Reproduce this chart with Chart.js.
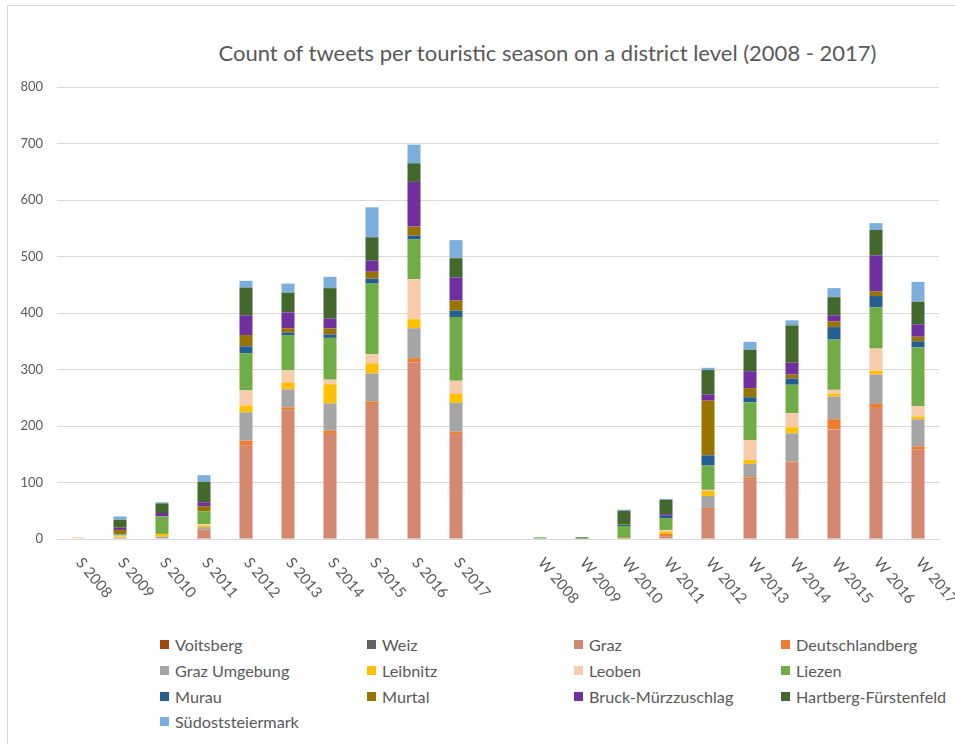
<!DOCTYPE html>
<html>
<head>
<meta charset="utf-8">
<title>Tweets per touristic season</title>
<script src="https://cdn.jsdelivr.net/npm/chart.js@4.4.0/dist/chart.umd.min.js"></script>
<style>
  html, body { margin: 0; padding: 0; width: 955px; height: 744px; overflow: hidden; background: #fff; font-family: Lato, "Noto Sans", sans-serif; }
  .frame { position: absolute; left: 7px; top: 5px; width: 1100px; height: 800px; border: 1px solid #d9d9d9; }
  .title { position: absolute; left: 0; width: 1095px; top: 39px; text-align: center; font-size: 22px; color: #595959; white-space: nowrap; }
  #wrap { position: absolute; left: 0; top: 0; width: 955px; height: 620px; }
  #legend { position: absolute; left: 160px; top: 632px; display: grid; grid-template-columns: repeat(4, 207px); grid-auto-rows: 25.7px; font-size: 16.2px; color: #595959; }
  .item { display: flex; align-items: center; white-space: nowrap; }
  .swatch { width: 9px; height: 9px; margin-right: 6px; flex: none; }
</style>
</head>
<body>
<div class="frame"></div>
<div class="title">Count of tweets per touristic season on a district level (2008 - 2017)</div>
<div id="wrap"><canvas id="chart"></canvas></div>
<div id="legend"></div>

<script>
// Seasons: summer S, empty slot, winter W
const categories = ['S 2008', 'S 2009', 'S 2010', 'S 2011', 'S 2012', 'S 2013', 'S 2014', 'S 2015', 'S 2016', 'S 2017', '',
                    'W 2008', 'W 2009', 'W 2010', 'W 2011', 'W 2012', 'W 2013', 'W 2014', 'W 2015', 'W 2016', 'W 2017'];

const yTicks = [0, 100, 200, 300, 400, 500, 600, 700, 800];

// tweet counts per district, stacked bottom to top
const voitsberg        = [0, 0, 0, 0, 0, 0, 0, 0, 0, 0, null, 0, 0, 0, 0, 0, 0, 0, 0, 0, 0];
const weiz             = [0, 0, 0, 0, 0, 0, 0, 0, 0, 0, null, 0, 0, 0, 0, 0, 0, 0, 0, 0, 0];
const graz             = [0, 1, 1, 17, 165, 227, 186, 239, 313, 186, null, 0, 0, 0, 5, 53, 106, 135, 194, 232, 158];
const deutschlandberg  = [0, 0, 0, 0, 9, 6, 6, 4, 7, 4, null, 0, 0, 2, 4, 2, 3, 2, 18, 7, 6];
const grazUmgebung     = [0, 1, 3, 4, 50, 32, 48, 50, 53, 51, null, 0, 0, 0, 0, 21, 24, 50, 40, 52, 48];
const leibnitz         = [0, 2, 5, 3, 12, 12, 34, 18, 16, 16, null, 0, 0, 0, 4, 9, 7, 11, 5, 7, 5];
const leoben           = [3, 2, 0, 2, 27, 22, 8, 16, 71, 23, null, 0, 0, 0, 3, 2, 35, 25, 7, 39, 18];
const liezen           = [0, 2, 31, 23, 66, 61, 74, 125, 70, 113, null, 3, 0, 21, 21, 43, 67, 50, 89, 73, 104];
const murau            = [0, 1, 0, 0, 12, 5, 6, 9, 7, 11, null, 0, 0, 2, 4, 18, 9, 11, 22, 20, 11];
const murtal           = [0, 7, 0, 9, 20, 8, 11, 12, 16, 18, null, 0, 0, 1, 0, 97, 16, 7, 10, 8, 8];
const bruckMuerz       = [0, 4, 6, 7, 35, 28, 17, 20, 79, 41, null, 0, 0, 0, 3, 11, 30, 21, 11, 64, 22];
const hartbergFuersten = [0, 14, 17, 36, 49, 35, 54, 41, 33, 34, null, 0, 3, 24, 25, 43, 38, 66, 32, 45, 40];
const suedost          = [0, 6, 2, 12, 12, 16, 20, 53, 33, 32, null, 0, 0, 2, 2, 4, 14, 9, 16, 12, 35];

const seriesNames = ['Voitsberg', 'Weiz', 'Graz', 'Deutschlandberg', 'Graz Umgebung', 'Leibnitz', 'Leoben',
                     'Liezen', 'Murau', 'Murtal', 'Bruck-Mürzzuschlag', 'Hartberg-Fürstenfeld', 'Südoststeiermark'];
const seriesValues = [voitsberg, weiz, graz, deutschlandberg, grazUmgebung, leibnitz, leoben,
                      liezen, murau, murtal, bruckMuerz, hartbergFuersten, suedost];
const seriesColors = ['#9e480e', '#636363', '#d4876f', '#ed7d31', '#a5a5a5', '#ffc000', '#f8cbad',
                      '#70ad47', '#255e91', '#997300', '#7030a0', '#43682b', '#7cafdd'];

const textColor = '#595959';
const gridColor = '#d9d9d9';

// category labels slanted downwards to the right
const slantedLabels = {
    id: 'slantedLabels',
    afterDraw(chart) {
        const { ctx, scales: { x, y } } = chart;
        ctx.save();
        ctx.font = '15px Lato';
        ctx.fillStyle = textColor;
        ctx.textAlign = 'left';
        ctx.textBaseline = 'middle';
        categories.forEach((label, i) => {
            if (!label) return;
            ctx.save();
            ctx.translate(x.getPixelForValue(i) + 1, y.bottom + 21);
            ctx.rotate(50 * Math.PI / 180);
            ctx.fillText(label, 0, 0);
            ctx.restore();
        });
        ctx.restore();
    }
};

const chart = new Chart(document.getElementById('chart'), {
    type: 'bar',
    data: {
        labels: categories,
        datasets: seriesNames.map((name, i) => ({
            label: name,
            data: seriesValues[i],
            backgroundColor: seriesColors[i],
            borderWidth: 0,
            categoryPercentage: 1,
            barPercentage: 0.31
        }))
    },
    options: {
        responsive: true,
        maintainAspectRatio: false,
        animation: false,
        layout: { padding: { top: 87, right: 16, bottom: 0, left: 0 } },
        plugins: {
            legend: { display: false },
            tooltip: { enabled: false }
        },
        scales: {
            x: {
                stacked: true,
                grid: { display: false },
                border: { color: gridColor },
                ticks: { display: false },
                afterFit: s => { s.height = 81; }
            },
            y: {
                stacked: true,
                min: yTicks[0],
                max: yTicks[yTicks.length - 1],
                afterBuildTicks: s => { s.ticks = yTicks.map(v => ({ value: v })); },
                ticks: { padding: 14, color: textColor, font: { family: 'Lato', size: 13 } },
                grid: { color: gridColor, drawTicks: false },
                border: { display: false },
                afterFit: s => { s.width = 57; }
            }
        }
    },
    plugins: [slantedLabels]
});

// four-column legend under the plot
const legendEl = document.getElementById('legend');
chart.data.datasets.forEach(ds => {
    const item = document.createElement('div');
    item.className = 'item';
    const sw = document.createElement('span');
    sw.className = 'swatch';
    sw.style.background = ds.backgroundColor;
    const txt = document.createElement('span');
    txt.textContent = ds.label;
    item.appendChild(sw);
    item.appendChild(txt);
    legendEl.appendChild(item);
});
</script>
</body>
</html>
